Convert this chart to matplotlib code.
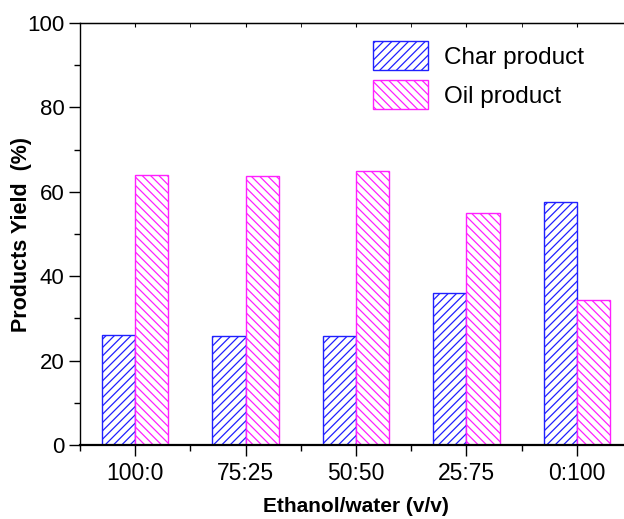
import numpy as np
import matplotlib.pyplot as plt
from matplotlib.ticker import MultipleLocator

plt.rcParams['font.family'] = ['Liberation Sans', 'DejaVu Sans']
plt.rcParams['hatch.linewidth'] = 0.9

# dados
ratios = ['100:0', '75:25', '50:50', '25:75', '0:100']
char_yield = [26.1, 25.9, 25.8, 36.1, 57.7]
oil_yield = [63.9, 63.8, 65.0, 55.0, 34.3]

x = np.arange(len(ratios))
w = 0.3

fig = plt.figure(figsize=(6.24, 5.19), dpi=100)
ax = fig.add_axes([0.1282, 0.1426, 0.8846, 0.813])

ax.bar(x - w / 2, char_yield, w, facecolor='white', edgecolor='#2020ff',
       hatch='////', linewidth=1.0, label='Char product')
ax.bar(x + w / 2, oil_yield, w, facecolor='white', edgecolor='#ff20ff',
       hatch='\\\\\\\\', linewidth=1.0, label='Oil product')

ax.set_xlim(-0.5, 4.5)
ax.set_ylim(0, 100)
ax.set_xticks(x)
ax.set_xticklabels(ratios)
ax.xaxis.set_minor_locator(MultipleLocator(0.5))
ax.yaxis.set_major_locator(MultipleLocator(20))
ax.yaxis.set_minor_locator(MultipleLocator(10))

ax.tick_params(axis='both', which='major', direction='out', length=8, width=1,
               labelsize=16, pad=3)
ax.tick_params(axis='x', which='major', labelsize=16.5, pad=4)
ax.tick_params(axis='both', which='minor', direction='out', length=4, width=1)

# ticks do topo para dentro
sec = ax.secondary_xaxis('top')
sec.set_xticks(x)
sec.set_xticklabels([])
sec.xaxis.set_minor_locator(MultipleLocator(0.5))
sec.tick_params(which='both', direction='in', length=3)

for s in ax.spines.values():
    s.set_linewidth(1.0)
ax.spines['bottom'].set_linewidth(1.6)

ax.set_xlabel('Ethanol/water (v/v)', fontsize=15, fontweight='bold', labelpad=9)
ax.set_ylabel('Products Yield  (%)', fontsize=15.5, fontweight='bold', labelpad=-3)

ax.legend(loc='upper left', bbox_to_anchor=(0.531, 0.9565), frameon=False,
          fontsize=17.5, handlelength=2.25, handleheight=1.45, labelspacing=0.42,
          handletextpad=0.65, borderpad=0, borderaxespad=0)

plt.savefig('out.png', dpi=100)
